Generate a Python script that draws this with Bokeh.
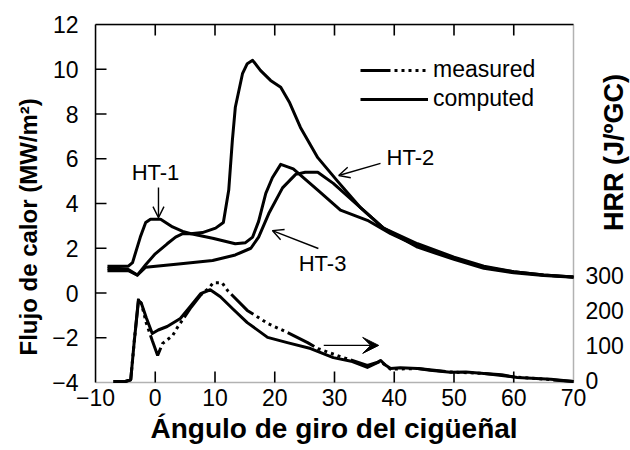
from math import pi

from bokeh.embed import file_html
from bokeh.models import (Arrow, BoxAnnotation, FixedTicker, Label, Legend, LegendItem,
                          LinearAxis, OpenHead, Range1d, Title, VeeHead)
from bokeh.plotting import figure
from bokeh.resources import INLINE

# ---- heat flux curves (MW/m2) vs crank angle (deg) ----
ht1_x = [-8, -6, -4.5, -3.8, -2.5, -1.6, -0.8, 0.9, 2.9, 4.6, 6.0, 9.6, 13.4, 15.1, 16.3,
         17.3, 18.5, 19.6, 21.0, 23.1, 27.2, 31.0, 35.5, 39.4, 43.9, 50, 55, 60, 65, 70]
ht1_y = [1.2, 1.2, 1.2, 1.36, 2.5, 3.15, 3.3, 3.3, 2.95, 2.75, 2.65, 2.45, 2.2, 2.25, 2.5,
         3.2, 4.45, 5.15, 5.75, 5.55, 4.6, 3.7, 3.25, 2.65, 2.1, 1.55, 1.15, 0.95, 0.8, 0.72]

ht2_x = [-8, -6, -4.5, -3.0, -1.5, 0.0, 2.0, 3.4, 4.6, 5.9, 7.9, 10.1, 11.4, 12.3, 12.9,
         13.4, 14.6, 15.4, 16.3, 17.6, 19.3, 21.0, 22.5, 24.3, 27.2, 30.5, 34.4, 38.2, 43.9,
         50, 55, 60, 65, 70]
ht2_y = [1.1, 1.1, 1.05, 0.8, 1.3, 1.75, 2.2, 2.5, 2.65, 2.65, 2.7, 2.9, 3.15, 4.6, 6.8,
         8.3, 9.8, 10.25, 10.4, 9.95, 9.5, 9.2, 8.5, 7.4, 6.05, 5.0, 3.8, 2.9, 2.2,
         1.6, 1.2, 0.95, 0.8, 0.72]

ht3_x = [-8, -6, -4.5, -3.0, -1.6, 3.9, 9.6, 13.4, 16.0, 17.3, 19.0, 21.3, 23.5, 25.1,
         27.2, 29.8, 34.4, 38.2, 43.9, 50, 55, 60, 65, 70]
ht3_y = [1.0, 1.0, 1.0, 0.8, 1.15, 1.3, 1.45, 1.7, 2.0, 2.5, 3.55, 4.7, 5.3, 5.4,
         5.4, 4.9, 3.8, 2.9, 2.05, 1.5, 1.1, 0.9, 0.78, 0.7]

# ---- heat release rate (J/deg) ----
hrr_comp_x = [-7, -5, -4.1, -3.5, -2.8, -2.3, -1.5, -0.5, 0.5, 2.0, 4.2, 6.0, 7.6, 9.2,
              10.9, 13.0, 15.4, 18.8, 22.1, 26.0, 29.8, 33.0, 35.5, 37.0, 37.7, 38.5,
              39.4, 41.0, 43.9, 46.0, 49.4, 52.0, 55.0, 58.0, 60.6, 63.0, 66.2, 70]
hrr_comp = [3, 3, 8, 120, 235, 225, 185, 140, 150, 160, 183, 220, 254, 265,
            245, 210, 171, 129, 114, 97, 71, 60, 43, 55, 63, 50,
            40, 42, 40, 35, 29, 30, 26, 22, 14, 12, 9, 3]

hrr_meas_x = [-7, -5, -4.1, -3.5, -2.8, -2.3, -1.5, -0.5, 0.4, 1.2, 2.9, 3.7, 6.0, 7.6,
              9.0, 9.7, 11.2, 12.1, 15.4, 18.8, 22.1, 25.5, 27.2, 31.5, 35.5, 37.7,
              39.4, 44.0, 49.4, 55.0, 60.6, 66.2, 70]
hrr_meas = [3, 3, 8, 120, 240, 225, 170, 120, 77, 111, 134, 157, 215, 250,
            270, 285, 285, 263, 206, 169, 143, 114, 97, 71, 49, 60,
            38, 40, 30, 26, 15, 8, 3]

x_ticks = [-10, 0, 10, 20, 30, 40, 50, 60, 70]
flux_ticks = [-4, -2, 0, 2, 4, 6, 8, 10, 12]
hrr_ticks = [0, 100, 200, 300]
hrr_tick_labels = [str(t) for t in hrr_ticks]

FONT = "Liberation Sans"
INK = "black"
X0, X1 = -10, 70          # crank-angle extent of the boxed plot area
Y0, Y1 = -4, 12           # heat flux extent
PX_PER_DEG = 5.975        # horizontal scale of the box
PX_PER_FLUX = 22.375      # vertical scale of the box (flux axis)
PX_PER_HRR = 0.35         # vertical scale of the box (HRR axis)
PAD_R, PAD_B = 57, 8      # room kept inside the frame right of / below the box
TICK_PX = 11

# the frame runs on past the box so the right-hand scale and its title sit inside it
frame_w = round((X1 - X0) * PX_PER_DEG) + PAD_R
frame_h = round((Y1 - Y0) * PX_PER_FLUX) + PAD_B
p = figure(frame_width=frame_w, frame_height=frame_h,
           min_border_left=95, min_border_right=0, min_border_top=24, min_border_bottom=60,
           x_range=Range1d(X0, X1 + PAD_R / PX_PER_DEG),
           y_range=Range1d(Y0 - PAD_B / PX_PER_FLUX, Y1),
           output_backend="svg", toolbar_location=None, background_fill_color="white")
hrr_top = (Y1 - Y0) * PX_PER_FLUX / PX_PER_HRR
p.extra_y_ranges = {"hrr": Range1d(-PAD_B / PX_PER_HRR, hrr_top)}
p.grid.visible = False
p.outline_line_color = None

xax = p.xaxis[0]
yax = p.yaxis[0]
xax.ticker = FixedTicker(ticks=x_ticks)
yax.ticker = FixedTicker(ticks=flux_ticks)
yax.bounds = (Y0, Y1)
xax.axis_line_color = None
yax.axis_line_width = 1.5
for ax in (xax, yax):
    ax.major_tick_in = 0
    ax.major_tick_out = 0
    ax.minor_tick_line_color = None
    ax.major_label_text_font = FONT
    ax.major_label_text_font_size = "23px"
    ax.major_label_text_color = INK
xax.major_label_standoff = 6 - PAD_B
yax.major_label_standoff = 17

# top edge of the box
top = LinearAxis(ticker=FixedTicker(ticks=[]), bounds=(X0, X1), major_tick_in=0,
                 major_tick_out=0, minor_tick_line_color=None, axis_line_width=1.5)
p.add_layout(top, "above")

# box outline (bottom and right edges fall inside the frame)
p.add_layout(BoxAnnotation(left=X0, right=X1, bottom=Y0, top=Y1, fill_alpha=0,
                           line_color=INK, line_width=1.5))

# inward tick marks on bottom, top and left edges, as thin filled bars
half_dy = TICK_PX / 2 / PX_PER_FLUX
half_dx = TICK_PX / 2 / PX_PER_DEG
inner_x = x_ticks[1:-1]
inner_y = flux_ticks[1:-1]
bar = dict(fill_color=INK, line_color=None, width_units="screen", height_units="screen")
p.rect(x=inner_x, y=[Y0 + half_dy] * len(inner_x), width=1.6, height=TICK_PX, **bar)
p.rect(x=inner_x, y=[Y1 - half_dy] * len(inner_x), width=1.6, height=TICK_PX, **bar)
p.rect(x=[X0 + half_dx] * len(inner_y), y=inner_y, width=TICK_PX, height=1.6, **bar)

# right-hand HRR scale labels
p.text(x=[X1 + 12 / PX_PER_DEG] * len(hrr_ticks), y=hrr_ticks, text=hrr_tick_labels,
       y_range_name="hrr", text_font={"value": FONT}, text_font_size="23px",
       text_color=INK, text_align="left", text_baseline="middle", y_offset=-2)

# heat flux traces
for xs, ys in ((ht1_x, ht1_y), (ht2_x, ht2_y), (ht3_x, ht3_y)):
    p.line(xs, ys, line_color=INK, line_width=3, line_join="round")

# heat release traces
MEAS_DASH = "30 4 3 4 3 4 3 4 3 4 3 4"
r_meas = p.line(hrr_meas_x, hrr_meas, y_range_name="hrr", line_color=INK,
                line_width=3, line_dash=MEAS_DASH)
r_comp = p.line(hrr_comp_x, hrr_comp, y_range_name="hrr", line_color=INK,
                line_width=3, line_join="round")

legend = Legend(items=[LegendItem(label="measured", renderers=[r_meas]),
                       LegendItem(label="computed", renderers=[r_comp])],
                location=(265, 270 + PAD_B), orientation="vertical",
                glyph_width=68, glyph_height=26, label_height=26, spacing=2,
                label_standoff=5, padding=0, margin=0,
                label_text_font=FONT, label_text_font_size="23px", label_text_color=INK,
                border_line_alpha=0, background_fill_alpha=0)
p.add_layout(legend)

# probe annotations
ann_font = dict(text_font=FONT, text_font_size="22px", text_color=INK,
                text_align="center", text_baseline="middle")
p.add_layout(Label(x=0.04, y=5.39, text="HT-1", **ann_font))
p.add_layout(Label(x=42.7, y=6.06, text="HT-2", **ann_font))
p.add_layout(Label(x=28.0, y=1.32, text="HT-3", **ann_font))

head = dict(size=11, line_width=1.4, line_color=INK)
p.add_layout(Arrow(x_start=0.54, y_start=4.71, x_end=0.54, y_end=3.37,
                   line_width=1.4, line_color=INK, end=OpenHead(**head)))
p.add_layout(Arrow(x_start=37.7, y_start=5.79, x_end=30.7, y_end=5.25,
                   line_width=1.4, line_color=INK, end=OpenHead(**head)))
p.add_layout(Arrow(x_start=27.3, y_start=1.99, x_end=19.6, y_end=2.79,
                   line_width=1.4, line_color=INK, end=OpenHead(**head)))
# arrow marking the HRR curves as read on the right-hand scale
p.add_layout(Arrow(x_start=28.2, y_start=106, x_end=37.4, y_end=106, y_range_name="hrr",
                   line_width=1.4, line_color=INK,
                   end=VeeHead(size=16, line_color=INK, fill_color=INK)))

# axis titles
p.add_layout(Label(x=76.7, y=6.28, angle=pi / 2, text="HRR (J/ºGC)", text_font=FONT,
                   text_font_size="27px", text_font_style="bold", text_color=INK,
                   text_align="center", text_baseline="middle"))
p.add_layout(Title(text="Flujo de calor (MW/m²)", align="left", offset=27 + PAD_B,
                   standoff=15, text_font=FONT, text_font_size="24px",
                   text_font_style="bold", text_color=INK), "left")
p.add_layout(Title(text="Ángulo de giro del cigüeñal", align="left", offset=55, standoff=4,
                   text_font=FONT, text_font_size="28px", text_font_style="bold",
                   text_color=INK), "below")

open("out.html", "w").write(file_html(p, INLINE))
